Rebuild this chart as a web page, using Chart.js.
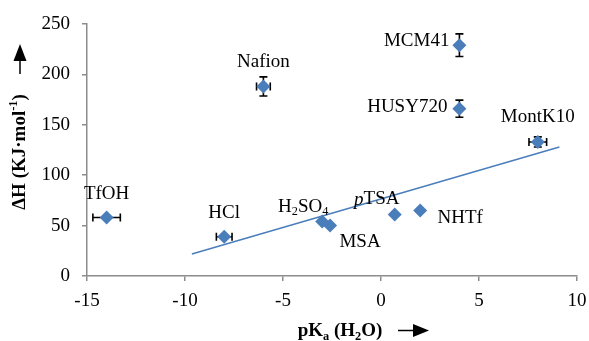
<!DOCTYPE html>
<html>
<head>
<meta charset="utf-8">
<script src="https://cdn.jsdelivr.net/npm/chart.js@4.4.1/dist/chart.umd.min.js"></script>
<style>
  html, body { margin: 0; padding: 0; background: #fff; }
  #wrap { width: 589px; height: 341px; }
</style>
</head>
<body>
<div id="wrap"><canvas id="chart"></canvas></div>
<script>
// acid catalysts: pKa in water vs adsorption enthalpy
const acids = ["TfOH", "HCl", "Nafion", "H2SO4", "MSA", "pTSA", "NHTf", "HUSY720", "MCM41", "MontK10"]
const pKa = [-14, -8, -6, -3, -2.6, 0.7, 2, 4, 4, 8]
const deltaH = [58, 39, 188, 54, 50, 61, 65, 166, 229, 133]
const pKaErr = [0.7, 0.4, 0.35, 0, 0, 0, 0, 0, 0, 0.45]
const deltaHErr = [0, 0, 9.5, 0, 0, 0, 0, 8.5, 11.2, 5]
// linear trend line end points
const trendX = [-9.65, 9.1]
const trendY = [21.8, 128]
const xTicks = [-15, -10, -5, 0, 5, 10]
const yTicks = [0, 50, 100, 150, 200, 250]

const SERIF = "'Liberation Serif', 'Times New Roman', serif"
const BLUE = "#4a7ebb"

// label text pieces (sub / sup / italic) and where they sit relative to the point
const labelParts = {
  H2SO4: [{ t: "H" }, { t: "2", sub: true }, { t: "SO" }, { t: "4", sub: true }],
  pTSA: [{ t: "p", italic: true }, { t: "TSA" }],
}
const labelPlace = {
  TfOH: [0, -24, "center"],
  HCl: [0, -24, "center"],
  Nafion: [0, -24, "center"],
  H2SO4: [-19, -15, "center"],
  MSA: [30, 16, "center"],
  pTSA: [-18, -15, "center"],
  NHTf: [40, 8, "center"],
  HUSY720: [-12, -2, "right"],
  MCM41: [-10, -4, "right"],
  MontK10: [0, -25, "center"],
}

function richWidth(ctx, parts, size, bold) {
  let w = 0
  parts.forEach((p) => {
    const s = p.sub || p.sup ? size * 0.65 : size
    ctx.font = `${p.italic ? "italic " : ""}${bold ? "bold " : ""}${s}px ${SERIF}`
    w += ctx.measureText(p.t).width
  })
  return w
}

function drawRich(ctx, parts, x, y, size, bold, align) {
  const w = richWidth(ctx, parts, size, bold)
  let cx = align === "right" ? x - w : align === "left" ? x : x - w / 2
  ctx.textBaseline = "middle"
  ctx.textAlign = "left"
  parts.forEach((p) => {
    const s = p.sub || p.sup ? size * 0.65 : size
    ctx.font = `${p.italic ? "italic " : ""}${bold ? "bold " : ""}${s}px ${SERIF}`
    let dy = 0
    if (p.sub) dy = size * 0.28
    if (p.sup) dy = -size * 0.3
    ctx.fillText(p.t, cx, y + dy)
    cx += ctx.measureText(p.t).width
  })
}

const errorBars = {
  id: "errorBars",
  beforeDatasetsDraw(chart) {
    const { ctx, scales } = chart
    const x = scales.x
    const y = scales.y
    ctx.save()
    ctx.strokeStyle = "#000"
    ctx.lineWidth = 1.6
    const cap = 4
    pKa.forEach((v, i) => {
      const px = x.getPixelForValue(v)
      const py = y.getPixelForValue(deltaH[i])
      if (pKaErr[i]) {
        const x1 = x.getPixelForValue(v - pKaErr[i])
        const x2 = x.getPixelForValue(v + pKaErr[i])
        ctx.beginPath()
        ctx.moveTo(x1, py); ctx.lineTo(x2, py)
        ctx.moveTo(x1, py - cap); ctx.lineTo(x1, py + cap)
        ctx.moveTo(x2, py - cap); ctx.lineTo(x2, py + cap)
        ctx.stroke()
      }
      if (deltaHErr[i]) {
        const y1 = y.getPixelForValue(deltaH[i] - deltaHErr[i])
        const y2 = y.getPixelForValue(deltaH[i] + deltaHErr[i])
        ctx.beginPath()
        ctx.moveTo(px, y1); ctx.lineTo(px, y2)
        ctx.moveTo(px - cap, y1); ctx.lineTo(px + cap, y1)
        ctx.moveTo(px - cap, y2); ctx.lineTo(px + cap, y2)
        ctx.stroke()
      }
    })
    ctx.restore()
  },
}

const labelsAndTitles = {
  id: "labelsAndTitles",
  afterDraw(chart) {
    const { ctx, scales } = chart
    ctx.save()
    ctx.fillStyle = "#000"
    acids.forEach((name, i) => {
      const px = scales.x.getPixelForValue(pKa[i])
      const py = scales.y.getPixelForValue(deltaH[i])
      const [dx, dy, align] = labelPlace[name]
      const parts = labelParts[name] || [{ t: name }]
      drawRich(ctx, parts, px + dx, py + dy, 19, false, align)
    })

    // x axis title + arrow
    const xParts = [{ t: "pK" }, { t: "a", sub: true }, { t: " (H" }, { t: "2", sub: true }, { t: "O)" }]
    drawRich(ctx, xParts, 340, 331, 19, true, "center")
    ctx.strokeStyle = "#000"
    ctx.lineWidth = 1.5
    ctx.beginPath()
    ctx.moveTo(398, 330.5); ctx.lineTo(416, 330.5)
    ctx.stroke()
    ctx.beginPath()
    ctx.moveTo(429, 330.5); ctx.lineTo(413, 324); ctx.lineTo(413, 337); ctx.closePath()
    ctx.fill()

    // y axis title + arrow
    ctx.save()
    ctx.translate(20, 152)
    ctx.rotate(-Math.PI / 2)
    const yParts = [{ t: "ΔH (KJ·mol" }, { t: "-1", sup: true }, { t: ")" }]
    drawRich(ctx, yParts, 0, 0, 19, true, "center")
    ctx.restore()
    ctx.beginPath()
    ctx.moveTo(20, 74); ctx.lineTo(20, 58)
    ctx.stroke()
    ctx.beginPath()
    ctx.moveTo(20, 44); ctx.lineTo(13.5, 61); ctx.lineTo(26.5, 61); ctx.closePath()
    ctx.fill()
    ctx.restore()
  },
}

const axisStyle = {
  grid: { drawOnChartArea: false, drawTicks: true, tickLength: 5, color: "#8c8c8c", lineWidth: 1.5 },
  border: { color: "#8c8c8c", width: 1.5 },
}

new Chart(document.getElementById("chart"), {
  type: "scatter",
  data: {
    datasets: [
      {
        label: "acids",
        data: pKa.map((v, i) => ({ x: v, y: deltaH[i] })),
        pointStyle: "rectRot",
        pointRadius: 7,
        backgroundColor: BLUE,
        borderColor: BLUE,
        borderWidth: 0,
        order: 1,
      },
      {
        label: "trend",
        data: trendX.map((v, i) => ({ x: v, y: trendY[i] })),
        showLine: true,
        pointRadius: 0,
        borderColor: BLUE,
        borderWidth: 1.5,
        order: 2,
      },
    ],
  },
  options: {
    responsive: true,
    maintainAspectRatio: false,
    animation: false,
    layout: { padding: { top: 24, right: 12, left: 0, bottom: 0 } },
    plugins: { legend: { display: false }, tooltip: { enabled: false } },
    scales: {
      x: {
        type: "linear",
        min: -15,
        max: 10,
        afterBuildTicks: (s) => { s.ticks = xTicks.map((v) => ({ value: v })) },
        afterFit: (s) => { s.height = 65; s.paddingLeft = 0; s.paddingRight = 0 },
        ticks: { color: "#000", font: { family: SERIF, size: 19 }, padding: 9 },
        ...axisStyle,
      },
      y: {
        type: "linear",
        min: 0,
        max: 250,
        afterBuildTicks: (s) => { s.ticks = yTicks.map((v) => ({ value: v })) },
        afterFit: (s) => { s.width = 87; s.paddingTop = 0; s.paddingBottom = 0 },
        ticks: { color: "#000", font: { family: SERIF, size: 19 }, padding: 12 },
        ...axisStyle,
      },
    },
  },
  plugins: [errorBars, labelsAndTitles],
})
</script>
</body>
</html>
